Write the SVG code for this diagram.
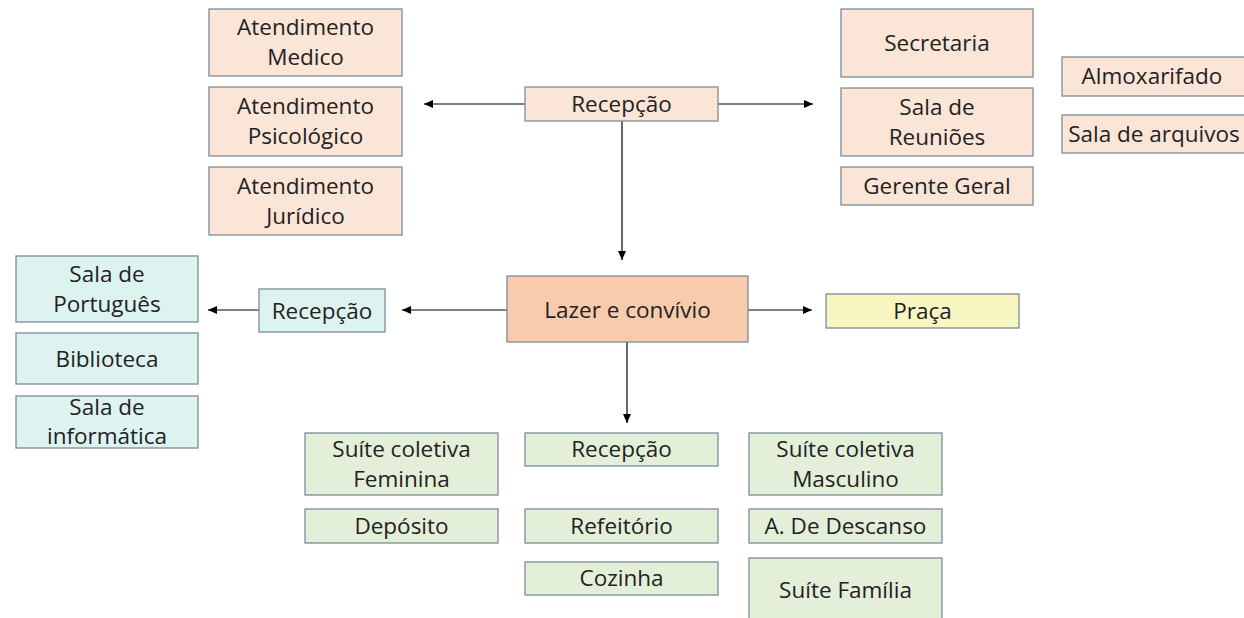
<svg xmlns="http://www.w3.org/2000/svg" width="1244" height="618" viewBox="0 0 1244 618">
<style>
.b{stroke:#7d8b99;stroke-width:1.3}
.pe{fill:#fbe5d6}
.lz{fill:#f8cbad}
.cy{fill:#ddf3f0}
.gr{fill:#e3efd9}
.ye{fill:#f8f6c0}
text{font-family:"Open Sans","Noto Sans",sans-serif;font-size:22.5px;fill:#222;text-anchor:middle}
.con line{stroke:#000;stroke-width:1.2;marker-end:url(#ah)}
</style>
<defs>
<marker id="ah" markerWidth="10" markerHeight="8" refX="9" refY="4" orient="auto" markerUnits="userSpaceOnUse">
<path d="M0,0 L9,4 L0,8 Z" fill="#000"/>
</marker>
</defs>
<rect x="0" y="0" width="1244" height="618" fill="#fff"/>
<g class="con">
<line x1="525" y1="104" x2="424" y2="104"/>
<line x1="718" y1="104" x2="813" y2="104"/>
<line x1="622" y1="121" x2="622" y2="260"/>
<line x1="507" y1="310" x2="402" y2="310"/>
<line x1="259" y1="310" x2="208" y2="310"/>
<line x1="748" y1="310" x2="812" y2="310"/>
<line x1="627" y1="342" x2="627" y2="423"/>
</g>
<g id="at-medico"><rect class="b pe" x="209" y="9" width="193" height="67"/><text x="305.5" y="35">Atendimento</text><text x="305.5" y="65">Medico</text></g>
<g id="at-psico"><rect class="b pe" x="209" y="87" width="193" height="69"/><text x="305.5" y="114">Atendimento</text><text x="305.5" y="144">Psicológico</text></g>
<g id="at-juridico"><rect class="b pe" x="209" y="167" width="193" height="68"/><text x="305.5" y="194">Atendimento</text><text x="305.5" y="224">Jurídico</text></g>
<g id="recepcao-top"><rect class="b pe" x="525" y="87" width="193" height="34"/><text x="621.5" y="112">Recepção</text></g>
<g id="secretaria"><rect class="b pe" x="841" y="9" width="192" height="68"/><text x="937" y="51">Secretaria</text></g>
<g id="sala-reunioes"><rect class="b pe" x="841" y="88" width="192" height="68"/><text x="937" y="115">Sala de</text><text x="937" y="145">Reuniões</text></g>
<g id="gerente"><rect class="b pe" x="841" y="167" width="192" height="38"/><text x="937" y="194">Gerente Geral</text></g>
<g id="almox"><rect class="b pe" x="1062" y="57" width="186" height="39"/><text x="1152" y="84">Almoxarifado</text></g>
<g id="arquivos"><rect class="b pe" x="1062" y="115" width="186" height="38"/><text x="1154" y="142">Sala de arquivos</text></g>
<g id="lazer"><rect class="b lz" x="507" y="276" width="241" height="66"/><text x="627.5" y="318">Lazer e convívio</text></g>
<g id="praca"><rect class="b ye" x="826" y="294" width="193" height="34"/><text x="922.5" y="319">Praça</text></g>
<g id="recepcao-cy"><rect class="b cy" x="259" y="289" width="126" height="43"/><text x="322" y="319">Recepção</text></g>
<g id="portugues"><rect class="b cy" x="16" y="256" width="182" height="66"/><text x="107" y="282">Sala de</text><text x="107" y="312">Português</text></g>
<g id="biblioteca"><rect class="b cy" x="16" y="333" width="182" height="51"/><text x="107" y="367">Biblioteca</text></g>
<g id="informatica"><rect class="b cy" x="16" y="396" width="182" height="52"/><text x="107" y="415">Sala de</text><text x="107" y="444">informática</text></g>
<g id="feminina"><rect class="b gr" x="305" y="433" width="193" height="62"/><text x="401.5" y="457">Suíte coletiva</text><text x="401.5" y="487">Feminina</text></g>
<g id="deposito"><rect class="b gr" x="305" y="509" width="193" height="34"/><text x="401.5" y="534">Depósito</text></g>
<g id="recepcao-gr"><rect class="b gr" x="525" y="433" width="193" height="33"/><text x="621.5" y="457">Recepção</text></g>
<g id="refeitorio"><rect class="b gr" x="525" y="509" width="193" height="34"/><text x="621.5" y="534">Refeitório</text></g>
<g id="cozinha"><rect class="b gr" x="525" y="562" width="193" height="33"/><text x="621.5" y="586">Cozinha</text></g>
<g id="masculino"><rect class="b gr" x="749" y="433" width="193" height="62"/><text x="845.5" y="457">Suíte coletiva</text><text x="845.5" y="487">Masculino</text></g>
<g id="descanso"><rect class="b gr" x="749" y="509" width="193" height="34"/><text x="845.5" y="534">A. De Descanso</text></g>
<g id="familia"><rect class="b gr" x="749" y="558" width="193" height="64"/><text x="845.5" y="598">Suíte Família</text></g>
</svg>
